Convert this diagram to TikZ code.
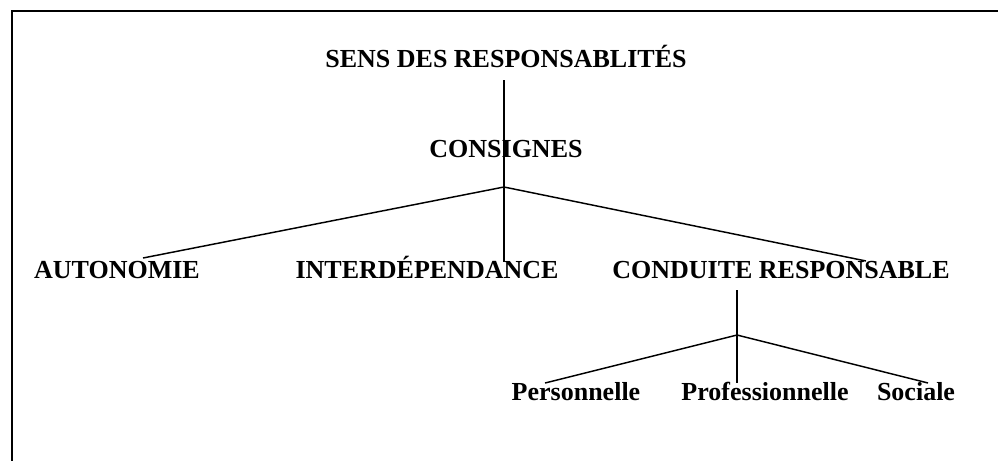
\documentclass[tikz,border=0pt]{standalone}
\usepackage{fontspec}
\usepackage{tkz-euclide}
\setmainfont{Liberation Serif}
\tikzset{>=stealth}
\tikzset{
  term/.style={anchor=base, inner sep=0pt, font=\bfseries\fontsize{19.5}{23}\selectfont},
  branch/.style={line width=1.1pt}
}

\begin{document}
\begin{tikzpicture}[x=0.75pt, y=-0.75pt]
    \useasboundingbox (0,0) rectangle (998,460);
    \tkzDefPoints{12/470/F1, 12/11/F2, 1010/11/F3}
    \draw[line width=1.6pt] (F1) -- (F2) -- (F3);
    \node[term] (sens) at (506,68) {SENS DES RESPONSABLITÉS};
    \node[term] (consignes) at (506,157) {CONSIGNES};
    \node[term] (autonomie) at (117,278) {AUTONOMIE};
    \node[term] (interdep) at (427,278) {INTERDÉPENDANCE};
    \node[term] (conduite) at (781,278) {CONDUITE RESPONSABLE};
    \node[term] (perso) at (576,400) {Personnelle};
    \node[term] (profess) at (765,400) {Professionnelle};
    \node[term] (sociale) at (916,400) {Sociale};
    \tkzDefPoints{504/80/S, 504/187/J, 143/258/A, 504/262/I, 866/261/C}
    \tkzDefPoints{737/290/K, 737/335/L, 545/383/P, 737/383/Q, 928/383/R}
    \draw[branch] (S) -- (J) -- (I);
    \draw[branch] (A) -- (J) -- (C);
    \draw[branch] (K) -- (L) -- (Q);
    \draw[branch] (P) -- (L) -- (R);
\end{tikzpicture}
\end{document}
